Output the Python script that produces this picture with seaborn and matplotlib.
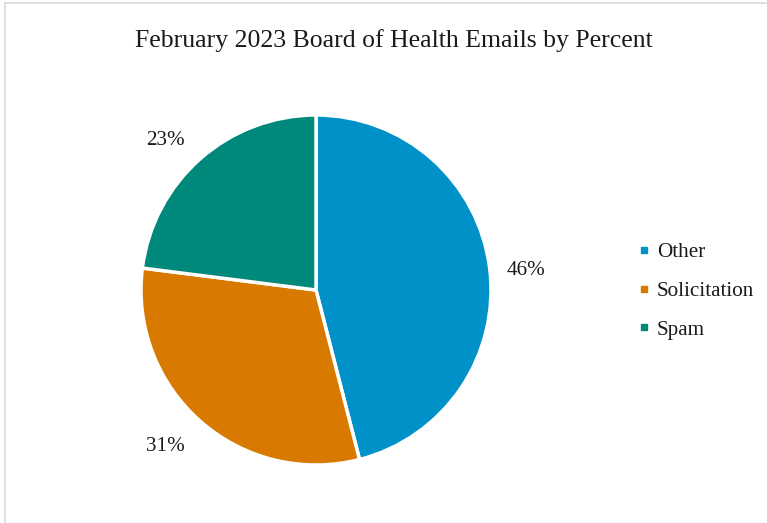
import matplotlib
matplotlib.use("Agg")
import matplotlib.pyplot as plt
from matplotlib.lines import Line2D
from matplotlib.transforms import offset_copy
import seaborn as sns

# chart data
categories = ["Other", "Solicitation", "Spam"]
percents = [46, 31, 23]
colors = ["#0091C8", "#D97A00", "#00897B"]
title = "February 2023 Board of Health Emails by Percent"

sns.set_theme(style="white")
plt.rcParams["font.family"] = ["Liberation Serif", "DejaVu Serif"]

W, H = 767, 523
fig = plt.figure(figsize=(W / 100, H / 100), dpi=100)
fig.patch.set_facecolor("white")

# pie axes: centre (316, 290) px, radius 175 px
cx, cy, r = 316, 290, 175
ax = fig.add_axes([(cx - r) / W, (H - cy - r) / H, 2 * r / W, 2 * r / H])

wedges, texts = ax.pie(
    percents,
    colors=colors,
    startangle=90,
    counterclock=False,
    labels=[f"{p}%" for p in percents],
    labeldistance=1.22,
    wedgeprops=dict(edgecolor="white", linewidth=2.5),
    textprops=dict(fontsize=15.2, color="#1a1a1a"),
)
# small nudges so the labels sit like the original's outside-end labels
nudges = [(-2, -7), (-9, 4), (-9, -11)]
for t, (dx, dy) in zip(texts, nudges):
    t.set_horizontalalignment("center")
    t.set_verticalalignment("center")
    t.set_transform(offset_copy(t.get_transform(), fig=fig, x=dx, y=dy, units="dots"))
ax.set_xlim(-1, 1)
ax.set_ylim(-1, 1)

fig.text(394 / W, 1 - 41 / H, title, ha="center", va="center",
         fontsize=18.5, color="#1a1a1a")

handles = [Line2D([], [], marker="s", linestyle="", markersize=5,
                  markerfacecolor=c, markeredgecolor=c) for c in colors]
fig.legend(handles, categories, loc="center left",
           bbox_to_anchor=(620 / W, 1 - 291 / H), frameon=False,
           fontsize=15.2, handlelength=0.5, handletextpad=0.35,
           labelspacing=0.9, labelcolor="#1a1a1a")

# chart frame edges visible on the left and top
fig.add_artist(Line2D([5 / W, 5 / W], [0, 1 - 3 / H], color="#D9D9D9", lw=1.2,
                      transform=fig.transFigure))
fig.add_artist(Line2D([5 / W, 1], [1 - 3 / H, 1 - 3 / H], color="#D9D9D9", lw=1.2,
                      transform=fig.transFigure))

fig.savefig("out.png", dpi=100, facecolor="white")
